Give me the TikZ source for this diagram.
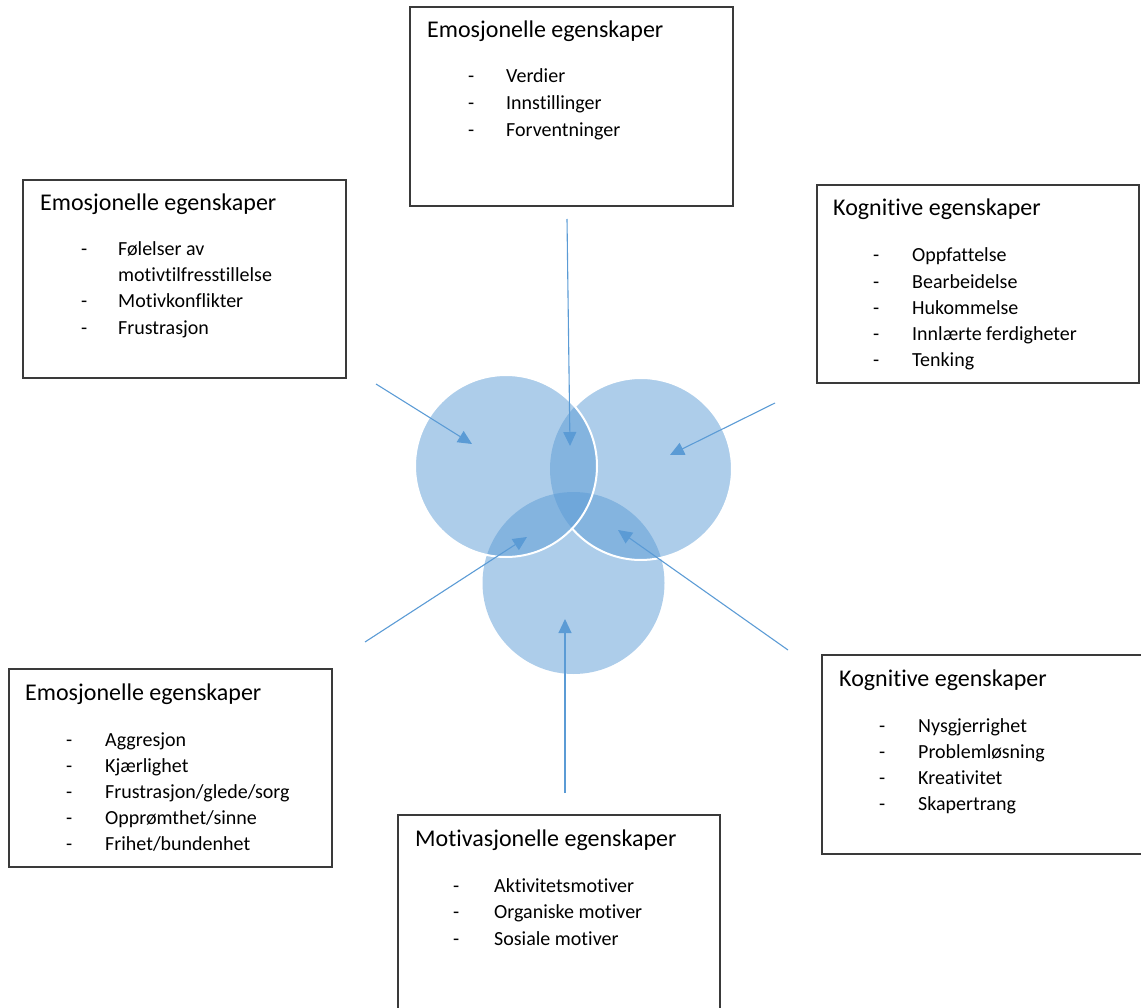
\documentclass[tikz,border=0pt]{standalone}
\usepackage{fontspec}
\setmainfont{Carlito}[Ligatures=NoCommon]
\usetikzlibrary{arrows.meta}
\definecolor{accent}{HTML}{5B9BD5}
\definecolor{frame}{HTML}{3A3A3A}

\begin{document}
\begin{tikzpicture}[x=1pt,y=-1pt,
  box/.style={draw=frame, line width=1.3pt, anchor=north west, inner sep=0pt, outer sep=0pt},
  title/.style={anchor=base west, inner sep=0pt, font=\fontsize{24}{28}\selectfont},
  item/.style={anchor=base west, inner sep=0pt, font=\fontsize{20}{24}\selectfont},
  blob/.style={circle, fill=accent, fill opacity=0.5, inner sep=0pt, minimum size=182pt},
  rim/.style={draw=white, line width=2pt},
  link/.style={draw=accent, line width=1.1pt, -{Triangle[length=14pt,width=13pt]}}]

\useasboundingbox (0,0) rectangle (1141,1008);
\clip (0,0) rectangle (1141,1008);

% ---- the three overlapping circles ----
\node[blob] (cB) at (573.5,583) {};
\node[blob] (cR) at (641,469) {};
\node[blob] (cL) at (506,466) {};
\draw[rim] (cR.center) ++(-136.6:91) arc[start angle=-136.6, end angle=139.2, radius=91];
\draw[rim] (cL.center) circle (91);

% ---- top: emotional traits ----
\node[box, minimum width=323pt, minimum height=199pt] (emoTop) at (410,7) {};
\node[title] (emoTopT) at (427,38) {Emosjonelle egenskaper};
\foreach \t [count=\i] in {Verdier, Innstillinger, Forventninger} {
  \node[item] (emoTopD\i) at (468,{83+27*(\i-1)}) {-};
  \node[item] (emoTopI\i) at (506,{83+27*(\i-1)}) {\t};
}

% ---- upper left: emotional traits ----
\node[box, minimum width=323pt, minimum height=198pt] (emoUL) at (23,180) {};
\node[title] (emoULT) at (40,211) {Emosjonelle egenskaper};
\node[item] (emoULD1) at (81,256) {-};
\node[item] (emoULI1) at (118,256) {Følelser av};
\node[item] (emoULI1b) at (118,282) {motivtilfresstillelse};
\node[item] (emoULD2) at (81,308) {-};
\node[item] (emoULI2) at (118,308) {Motivkonflikter};
\node[item] (emoULD3) at (81,335) {-};
\node[item] (emoULI3) at (118,335) {Frustrasjon};

% ---- upper right: cognitive traits ----
\node[box, minimum width=322pt, minimum height=198pt] (kogUR) at (817,185) {};
\node[title] (kogURT) at (833,216) {Kognitive egenskaper};
\foreach \t [count=\i] in {Oppfattelse, Bearbeidelse, Hukommelse, Innlærte ferdigheter, Tenking} {
  \node[item] (kogURD\i) at (873,{262+26.2*(\i-1)}) {-};
  \node[item] (kogURI\i) at (912,{262+26.2*(\i-1)}) {\t};
}

% ---- lower left: emotional traits ----
\node[box, minimum width=323pt, minimum height=198pt] (emoLL) at (9,669) {};
\node[title] (emoLLT) at (25,700) {Emosjonelle egenskaper};
\foreach \t [count=\i] in {Aggresjon, Kjærlighet, Frustrasjon/glede/sorg, Opprømthet/sinne, Frihet/bundenhet} {
  \node[item] (emoLLD\i) at (66,{746+26*(\i-1)}) {-};
  \node[item] (emoLLI\i) at (105,{746+26*(\i-1)}) {\t};
}

% ---- lower right: cognitive traits ----
\node[box, minimum width=340pt, minimum height=199pt] (kogLR) at (822,655) {};
\node[title] (kogLRT) at (839,686) {Kognitive egenskaper};
\foreach \t [count=\i] in {Nysgjerrighet, Problemløsning, Kreativitet, Skapertrang} {
  \node[item] (kogLRD\i) at (879,{732+26.3*(\i-1)}) {-};
  \node[item] (kogLRI\i) at (918,{732+26.3*(\i-1)}) {\t};
}

% ---- bottom: motivational traits ----
\node[box, minimum width=322pt, minimum height=220pt] (motB) at (398,815) {};
\node[title] (motBT) at (415,846) {Motivasjonelle egenskaper};
\foreach \t [count=\i] in {Aktivitetsmotiver, Organiske motiver, Sosiale motiver} {
  \node[item] (motBD\i) at (453,{892+26.5*(\i-1)}) {-};
  \node[item] (motBI\i) at (494,{892+26.5*(\i-1)}) {\t};
}

% ---- arrows into the circles ----
\coordinate (aTop) at (567,219);     \coordinate (hTop) at (570,446);
\coordinate (aUL)  at (376,384);     \coordinate (hUL)  at (472,444);
\coordinate (aUR)  at (775,403);     \coordinate (hUR)  at (670,455);
\coordinate (aLL)  at (365,642);     \coordinate (hLL)  at (527,537);
\coordinate (aLR)  at (788,650);     \coordinate (hLR)  at (618,530);
\coordinate (aB)   at (565,793);     \coordinate (hB)   at (565,619);
\draw[link] (aTop) -- (hTop);
\draw[link] (aUL) -- (hUL);
\draw[link] (aUR) -- (hUR);
\draw[link] (aLL) -- (hLL);
\draw[link] (aLR) -- (hLR);
\draw[link] (aB) -- (hB);
\end{tikzpicture}
\end{document}
